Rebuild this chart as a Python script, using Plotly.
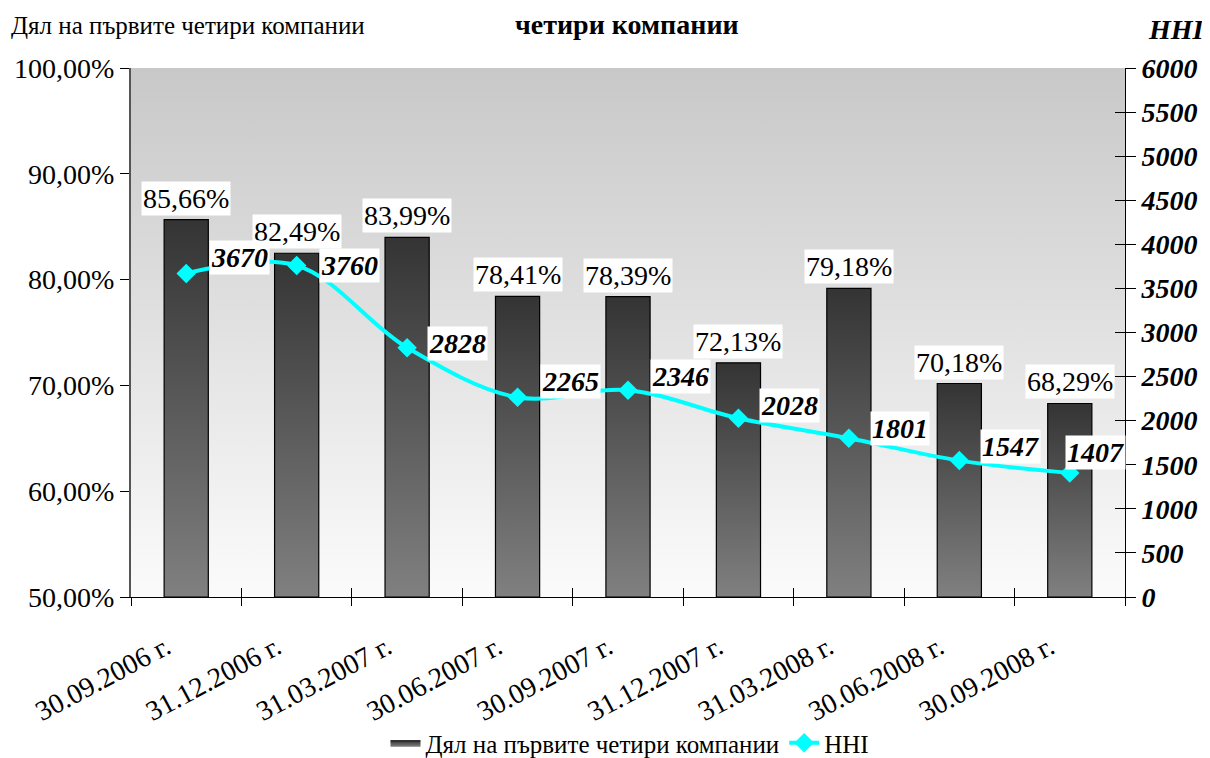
import plotly.graph_objects as go

# ---- data ----
dates = ["30.09.2006 г.", "31.12.2006 г.", "31.03.2007 г.", "30.06.2007 г.",
         "30.09.2007 г.", "31.12.2007 г.", "31.03.2008 г.", "30.06.2008 г.",
         "30.09.2008 г."]
share_top4 = [85.66, 82.49, 83.99, 78.41, 78.39, 72.13, 79.18, 70.18, 68.29]
hhi = [3670, 3760, 2828, 2265, 2346, 2028, 1801, 1547, 1407]
share_ticks = [50, 60, 70, 80, 90, 100]
hhi_ticks = list(range(0, 6001, 500))

# ---- styling ----
FONT = "Liberation Serif"
BAR_W = 0.4
hhi_label_offsets = [(23, 16), (22, 0), (20, 4), (22, 16), (22, 14),
                     (21, 13), (21, 10), (21, 14), (-5, 20)]

# the page has the default 8px body margin: compensate
OFF = 8
W, H = 1210 - OFF, 758 - OFF
L, T, R, B = 131 - OFF, 68 - OFF, 85, 161
PW, PH = W - L - R, H - T - B


def px(xp):
    return (xp - OFF - L) / PW


def py(yp):
    return 1.0 - (yp - OFF - T) / PH


n = len(dates)
xs = list(range(n))
y_min, y_max = share_ticks[0], share_ticks[-1]
bounds = [k - 0.5 for k in range(n + 1)]

fig = go.Figure()

# plot-area gradient background
fig.add_trace(go.Scatter(
    x=[-0.5, n - 0.5, n - 0.5, -0.5, -0.5],
    y=[y_min, y_min, y_max, y_max, y_min],
    mode="lines", line=dict(width=0), fill="toself",
    fillgradient=dict(type="vertical",
                      colorscale=[[0, "#fbfbfb"], [1, "#c8c8c8"]]),
    hoverinfo="skip", showlegend=False, xaxis="x", yaxis="y"))

# bars with vertical gradient
for i, v in enumerate(share_top4):
    x0, x1 = i - BAR_W / 2, i + BAR_W / 2
    fig.add_trace(go.Scatter(
        x=[x0, x1, x1, x0, x0], y=[y_min, y_min, v, v, y_min],
        mode="lines", line=dict(color="#000000", width=1.2),
        fill="toself",
        fillgradient=dict(type="vertical",
                          colorscale=[[0, "#808080"], [1, "#343434"]]),
        name="Дял на първите четири компании",
        legendgroup="share", showlegend=(i == 0),
        hoverinfo="skip", xaxis="x", yaxis="y"))

# HHI line
fig.add_trace(go.Scatter(
    x=xs, y=hhi, mode="lines+markers", name="HHI",
    line=dict(color="#00FFFF", width=4, shape="spline", smoothing=1),
    marker=dict(symbol="diamond", size=15, color="#00FFFF"),
    xaxis="x2", yaxis="y2"))

# invisible helper trace for the inner tick marks axes
fig.add_trace(go.Scatter(x=[None], y=[None], xaxis="x3", yaxis="y3",
                         showlegend=False, hoverinfo="skip"))

annotations = []
for i, v in enumerate(share_top4):
    annotations.append(dict(
        x=i, y=v, xref="x", yref="y", text=f"{v:.2f}".replace(".", ",") + "%",
        showarrow=False, yanchor="bottom", yshift=4, bgcolor="#ffffff",
        borderpad=1, font=dict(family=FONT, size=28, color="#000000")))
for i, h in enumerate(hhi):
    dx, dy = hhi_label_offsets[i]
    annotations.append(dict(
        x=i, y=h, xref="x", yref="y2", text=str(h), showarrow=False,
        xanchor="left", yanchor="middle", xshift=dx, yshift=dy,
        bgcolor="#ffffff", borderpad=1,
        font=dict(family=FONT, size=28, color="#000000",
                  weight="bold", style="italic")))

# titles
annotations.append(dict(
    text="четири компании",
    xref="paper", yref="paper", x=px(627), y=py(25),
    xanchor="center", yanchor="middle", showarrow=False,
    font=dict(family=FONT, size=28, color="#000000", weight="bold")))
annotations.append(dict(
    text="Дял на първите четири компании",
    xref="paper", yref="paper", x=px(9), y=py(26),
    xanchor="left", yanchor="middle", showarrow=False,
    font=dict(family=FONT, size=25, color="#000000")))
annotations.append(dict(
    text="HHI", xref="paper", yref="paper", x=px(1176),
    y=py(30), xanchor="center", yanchor="middle",
    showarrow=False,
    font=dict(family=FONT, size=28, color="#000000",
              weight="bold", style="italic")))

fig.update_layout(
    width=W, height=H,
    margin=dict(l=L, r=R, t=T, b=B, autoexpand=False),
    paper_bgcolor="#ffffff", plot_bgcolor="rgba(0,0,0,0)",
    font=dict(family=FONT, color="#000000"),
    xaxis=dict(range=[-0.5, n - 0.5], tickvals=xs, ticktext=dates,
               tickangle=-28, ticks="", showgrid=False, zeroline=False,
               showline=True, linecolor="#000000", linewidth=1,
               ticklabelstandoff=22, ticklabelshift=-20,
               tickfont=dict(family=FONT, size=28, color="#000000")),
    xaxis2=dict(range=[-0.5, n - 0.5], overlaying="x", anchor="y2",
                side="bottom", tickvals=bounds,
                ticks="outside", ticklen=8, tickcolor="#000000",
                showticklabels=False, showgrid=False, zeroline=False,
                showline=False),
    xaxis3=dict(range=[-0.5, n - 0.5], overlaying="x", anchor="y",
                side="bottom", tickvals=bounds,
                ticks="inside", ticklen=9, tickcolor="#000000",
                showticklabels=False, showgrid=False, zeroline=False,
                showline=False),
    yaxis=dict(range=[y_min, y_max], tickvals=share_ticks,
               ticktext=[f"{t:.2f}".replace(".", ",") + "%" for t in share_ticks],
               ticks="outside", ticklen=9, tickcolor="#000000",
               showgrid=False, zeroline=False, showline=True,
               linecolor="#555555", linewidth=2,
               tickfont=dict(family=FONT, size=28, color="#000000")),
    yaxis2=dict(range=[hhi_ticks[0], hhi_ticks[-1]], tickvals=hhi_ticks,
                tickformat="d", overlaying="y", side="right", anchor="x",
                ticks="outside", ticklen=10, tickcolor="#000000",
                showgrid=False, zeroline=False, showline=True,
                linecolor="#000000", linewidth=1,
                tickfont=dict(family=FONT, size=28, color="#000000",
                              weight="bold", style="italic")),
    yaxis3=dict(range=[hhi_ticks[0], hhi_ticks[-1]], tickvals=hhi_ticks,
                overlaying="y", side="right", anchor="x",
                ticks="inside", ticklen=10, tickcolor="#000000",
                showticklabels=False, showgrid=False, zeroline=False,
                showline=False),
    legend=dict(orientation="h", x=px(630), xanchor="center",
                y=py(743), yanchor="middle",
                font=dict(family=FONT, size=25, color="#000000"),
                bgcolor="rgba(0,0,0,0)", itemwidth=30),
    annotations=annotations,
)

fig.write_html("out.html")
